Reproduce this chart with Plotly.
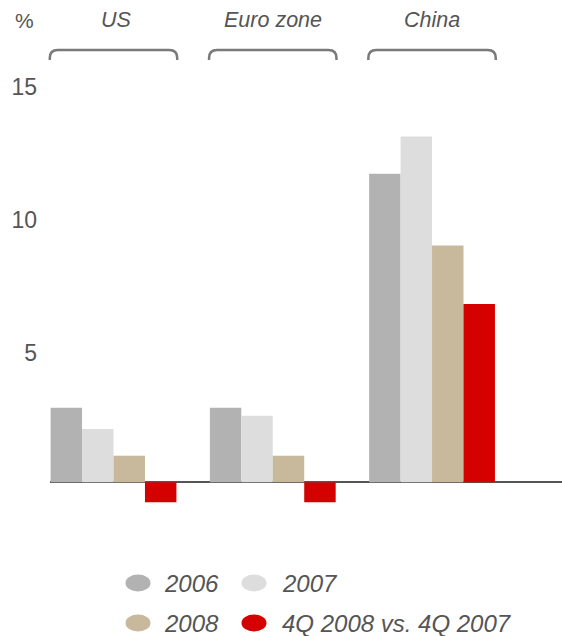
import plotly.graph_objects as go

# ---- data ----
categories = ["US", "Euro zone", "China"]
series_names = ["2006", "2007", "2008", "4Q 2008 vs. 4Q 2007"]
values_2006 = [2.8, 2.8, 11.6]
values_2007 = [2.0, 2.5, 13.0]
values_2008 = [1.0, 1.0, 8.9]
values_4q = [-0.75, -0.75, 6.7]
y_ticks = [5, 10, 15]
unit_label = "%"

series_values = [values_2006, values_2007, values_2008, values_4q]
colors = ["#b2b2b2", "#dddddd", "#c8b99c", "#d50000"]

# ---- layout geometry ----
W, H = 562, 636
ML, MR, MT, MB = 50, 0, 70, 116
PW, PH = W - ML - MR, H - MT - MB
XMIN, XMAX = -0.3987, 2.816
YMIN, YMAX = -1.417, 15.5
FONT = "Liberation Sans, Arial, sans-serif"
TXT = "#555555"


def px_to_paper_x(px):
    return (px - ML) / PW


def px_to_paper_y(py):
    return (H - MB - py) / PH


def data_to_paper_x(x):
    return (x - XMIN) / (XMAX - XMIN)


xs = list(range(len(categories)))

fig = go.Figure()
for name, vals, col in zip(series_names, series_values, colors):
    fig.add_trace(go.Bar(x=xs, y=vals, name=name, marker=dict(color=col, line=dict(width=0)),
                         showlegend=False, hoverinfo="y"))

shapes = []
annotations = []

# brackets over each group + group labels
yt = px_to_paper_y(50)
yb = px_to_paper_y(60)
rx = 8 / PW
ry = 8 / PH
label_dx = [2.5, 0, 0]
for i, cat in enumerate(categories):
    x0 = data_to_paper_x(i - 0.4)
    x1 = data_to_paper_x(i + 0.4)
    path = (f"M {x0},{yb} L {x0},{yt - ry} Q {x0},{yt} {x0 + rx},{yt} "
            f"L {x1 - rx},{yt} Q {x1},{yt} {x1},{yt - ry} L {x1},{yb}")
    shapes.append(dict(type="path", xref="paper", yref="paper", path=path,
                       line=dict(color="#7a7a7a", width=2.5)))
    annotations.append(dict(xref="paper", yref="paper", x=data_to_paper_x(i) + label_dx[i] / PW,
                            y=px_to_paper_y(20.5),
                            text=f"<i>{cat}</i>", showarrow=False, xanchor="center", yanchor="middle",
                            font=dict(family=FONT, size=21.5, color=TXT)))

annotations.append(dict(xref="paper", yref="paper", x=px_to_paper_x(24), y=px_to_paper_y(20.5),
                        text=unit_label, showarrow=False, xanchor="center", yanchor="middle",
                        font=dict(family=FONT, size=21, color=TXT)))

# manual legend (2x2 grid)
col_marker_x = [138, 254]
col_text_x = [162, 280]
row_y = [583, 623]
for k, (name, col) in enumerate(zip(series_names, colors)):
    r, c = divmod(k, 2)
    cx, cy = col_marker_x[c], row_y[r]
    shapes.append(dict(type="circle", xref="paper", yref="paper",
                       x0=px_to_paper_x(cx - 12.5), x1=px_to_paper_x(cx + 12.5),
                       y0=px_to_paper_y(cy + 8.5), y1=px_to_paper_y(cy - 8.5),
                       fillcolor=col, line=dict(width=0)))
    annotations.append(dict(xref="paper", yref="paper", x=px_to_paper_x(col_text_x[c]), y=px_to_paper_y(cy),
                            text=f"<i>{name}</i>", showarrow=False, xanchor="left", yanchor="middle",
                            font=dict(family=FONT, size=24, color=TXT)))

fig.update_layout(
    width=W, height=H,
    margin=dict(l=ML, r=MR, t=MT, b=MB, pad=0),
    paper_bgcolor="white", plot_bgcolor="white",
    barmode="group", bargap=0.21, bargroupgap=0,
    shapes=shapes, annotations=annotations,
    font=dict(family=FONT, color=TXT),
    xaxis=dict(range=[XMIN, XMAX], showticklabels=False, showgrid=False, zeroline=False,
               showline=False, ticks=""),
    yaxis=dict(range=[YMIN, YMAX], tickvals=y_ticks, ticktext=[str(v) for v in y_ticks],
               showgrid=False, zeroline=True, zerolinecolor="#555555", zerolinewidth=1.5,
               showline=False, ticks="", ticklabelstandoff=12, ticklabelshift=4,
               tickfont=dict(family=FONT, size=23, color=TXT)),
)

fig.write_html("out.html", config={"displayModeBar": False},
               post_script="document.body.style.margin='0';document.body.style.overflow='hidden';")
